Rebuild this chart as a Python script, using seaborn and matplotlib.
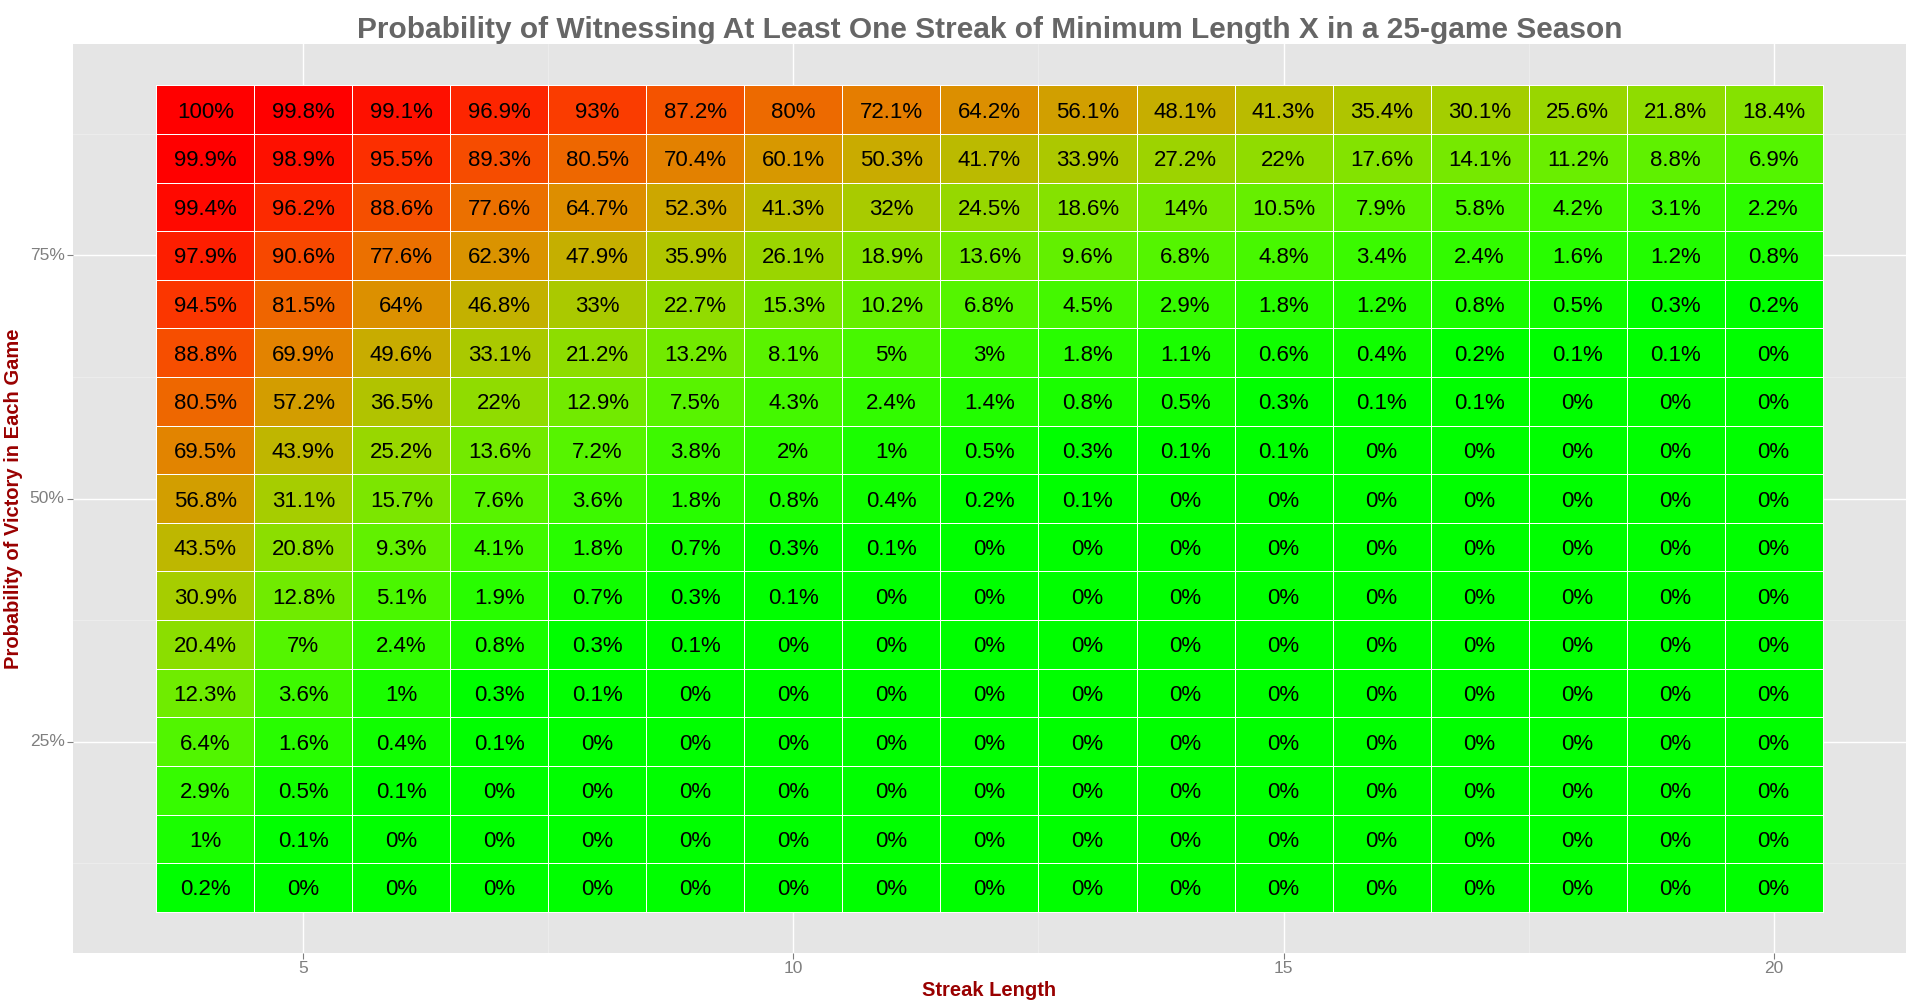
import numpy as np
import pandas as pd
import matplotlib
matplotlib.use("Agg")
import matplotlib.pyplot as plt
from matplotlib.colors import ListedColormap
import seaborn as sns

plt.rcParams['font.family'] = ['Liberation Sans', 'DejaVu Sans']

streak_lengths = list(range(4, 21))
win_probs = [0.90, 0.85, 0.80, 0.75, 0.70, 0.65, 0.60, 0.55, 0.50,
             0.45, 0.40, 0.35, 0.30, 0.25, 0.20, 0.15, 0.10]

# % chance of at least one streak, one row per win probability (top row = 90%)
streak_pct = [
    [100, 99.8, 99.1, 96.9, 93, 87.2, 80, 72.1, 64.2, 56.1, 48.1, 41.3, 35.4, 30.1, 25.6, 21.8, 18.4],
    [99.9, 98.9, 95.5, 89.3, 80.5, 70.4, 60.1, 50.3, 41.7, 33.9, 27.2, 22, 17.6, 14.1, 11.2, 8.8, 6.9],
    [99.4, 96.2, 88.6, 77.6, 64.7, 52.3, 41.3, 32, 24.5, 18.6, 14, 10.5, 7.9, 5.8, 4.2, 3.1, 2.2],
    [97.9, 90.6, 77.6, 62.3, 47.9, 35.9, 26.1, 18.9, 13.6, 9.6, 6.8, 4.8, 3.4, 2.4, 1.6, 1.2, 0.8],
    [94.5, 81.5, 64, 46.8, 33, 22.7, 15.3, 10.2, 6.8, 4.5, 2.9, 1.8, 1.2, 0.8, 0.5, 0.3, 0.2],
    [88.8, 69.9, 49.6, 33.1, 21.2, 13.2, 8.1, 5, 3, 1.8, 1.1, 0.6, 0.4, 0.2, 0.1, 0.1, 0],
    [80.5, 57.2, 36.5, 22, 12.9, 7.5, 4.3, 2.4, 1.4, 0.8, 0.5, 0.3, 0.1, 0.1, 0, 0, 0],
    [69.5, 43.9, 25.2, 13.6, 7.2, 3.8, 2, 1, 0.5, 0.3, 0.1, 0.1, 0, 0, 0, 0, 0],
    [56.8, 31.1, 15.7, 7.6, 3.6, 1.8, 0.8, 0.4, 0.2, 0.1, 0, 0, 0, 0, 0, 0, 0],
    [43.5, 20.8, 9.3, 4.1, 1.8, 0.7, 0.3, 0.1, 0, 0, 0, 0, 0, 0, 0, 0, 0],
    [30.9, 12.8, 5.1, 1.9, 0.7, 0.3, 0.1, 0, 0, 0, 0, 0, 0, 0, 0, 0, 0],
    [20.4, 7, 2.4, 0.8, 0.3, 0.1, 0, 0, 0, 0, 0, 0, 0, 0, 0, 0, 0],
    [12.3, 3.6, 1, 0.3, 0.1, 0, 0, 0, 0, 0, 0, 0, 0, 0, 0, 0, 0],
    [6.4, 1.6, 0.4, 0.1, 0, 0, 0, 0, 0, 0, 0, 0, 0, 0, 0, 0, 0],
    [2.9, 0.5, 0.1, 0, 0, 0, 0, 0, 0, 0, 0, 0, 0, 0, 0, 0, 0],
    [1, 0.1, 0, 0, 0, 0, 0, 0, 0, 0, 0, 0, 0, 0, 0, 0, 0],
    [0.2, 0, 0, 0, 0, 0, 0, 0, 0, 0, 0, 0, 0, 0, 0, 0, 0],
]


# green -> red gradient interpolated in CIELAB, like ggplot's scale_fill_gradient
def to_lab(rgb):
    c = np.asarray(rgb, float)
    c = np.where(c > 0.04045, ((c + 0.055) / 1.055) ** 2.4, c / 12.92)
    m = np.array([[0.4124, 0.3576, 0.1805],
                  [0.2126, 0.7152, 0.0722],
                  [0.0193, 0.1192, 0.9505]])
    xyz = m @ c / np.array([0.95047, 1.0, 1.08883])
    f = np.where(xyz > 0.008856, np.cbrt(xyz), 7.787 * xyz + 16 / 116)
    return np.array([116 * f[1] - 16, 500 * (f[0] - f[1]), 200 * (f[1] - f[2])])


def from_lab(lab):
    L, a, b = lab
    fy = (L + 16) / 116
    fx = fy + a / 500
    fz = fy - b / 200
    f = np.array([fx, fy, fz])
    xyz = np.where(f ** 3 > 0.008856, f ** 3, (f - 16 / 116) / 7.787)
    xyz = xyz * np.array([0.95047, 1.0, 1.08883])
    minv = np.array([[3.2406, -1.5372, -0.4986],
                     [-0.9689, 1.8758, 0.0415],
                     [0.0557, -0.2040, 1.0570]])
    c = minv @ xyz
    c = np.where(c > 0.0031308, 1.055 * np.clip(c, 0, None) ** (1 / 2.4) - 0.055, 12.92 * c)
    return np.clip(c, 0, 1)


lab_lo = to_lab([0, 1, 0])
lab_hi = to_lab([1, 0, 0])
cmap = ListedColormap([from_lab(lab_lo + t * (lab_hi - lab_lo)) for t in np.linspace(0, 1, 256)])

df = pd.DataFrame(streak_pct, index=win_probs, columns=streak_lengths)
labels = df.map(lambda v: f"{v:g}%")

fig = plt.figure(figsize=(19.2, 10.05), dpi=100)
ax = fig.add_axes([0.038, 0.0517, 0.9547, 0.9045])
ax.set_facecolor('#E5E5E5')

sns.heatmap(df, ax=ax, cmap=cmap, vmin=0, vmax=100, cbar=False,
            annot=labels, fmt="",
            annot_kws={"color": "black", "fontsize": 16, "va": "center_baseline"},
            linewidths=0.5, linecolor='white')

# continuous-looking axes with ggplot expansion
ax.set_xlim(-0.85, len(streak_lengths) + 0.85)
ax.set_ylim(len(win_probs) + 0.85, -0.85)

x_major = [5, 10, 15, 20]
x_minor = [7.5, 12.5, 17.5]
y_major = [0.25, 0.50, 0.75]
y_minor = [0.125, 0.375, 0.625, 0.875]
ax.set_xticks([x - 3.5 for x in x_major])
ax.set_xticklabels([str(x) for x in x_major])
ax.set_xticks([x - 3.5 for x in x_minor], minor=True)
ax.set_yticks([(0.925 - y) / 0.05 for y in y_major])
ax.set_yticklabels([f"{int(y * 100)}%" for y in y_major], rotation=0)
ax.set_yticks([(0.925 - y) / 0.05 for y in y_minor], minor=True)

ax.set_axisbelow(True)
ax.grid(True, which='major', color='white', linewidth=1.0)
ax.grid(True, which='minor', color='#F0F0F0', linewidth=0.5)
ax.tick_params(which='major', length=4, width=0.8, color='#7F7F7F',
               labelcolor='#7F7F7F', labelsize=12.5, pad=2)
ax.tick_params(which='minor', length=0)
for s in ax.spines.values():
    s.set_visible(False)

ax.set_xlabel('Streak Length', color='#990000', fontsize=14.5, fontweight='bold', labelpad=3)
ax.set_ylabel('Probability of Victory in Each Game', color='#990000', fontsize=14.5,
              fontweight='bold', labelpad=5)
ax.set_title('Probability of Witnessing At Least One Streak of Minimum Length X in a 25-game Season',
             color='#666666', fontsize=21.5, fontweight='bold', pad=2)

fig.savefig('out.png', dpi=100)
